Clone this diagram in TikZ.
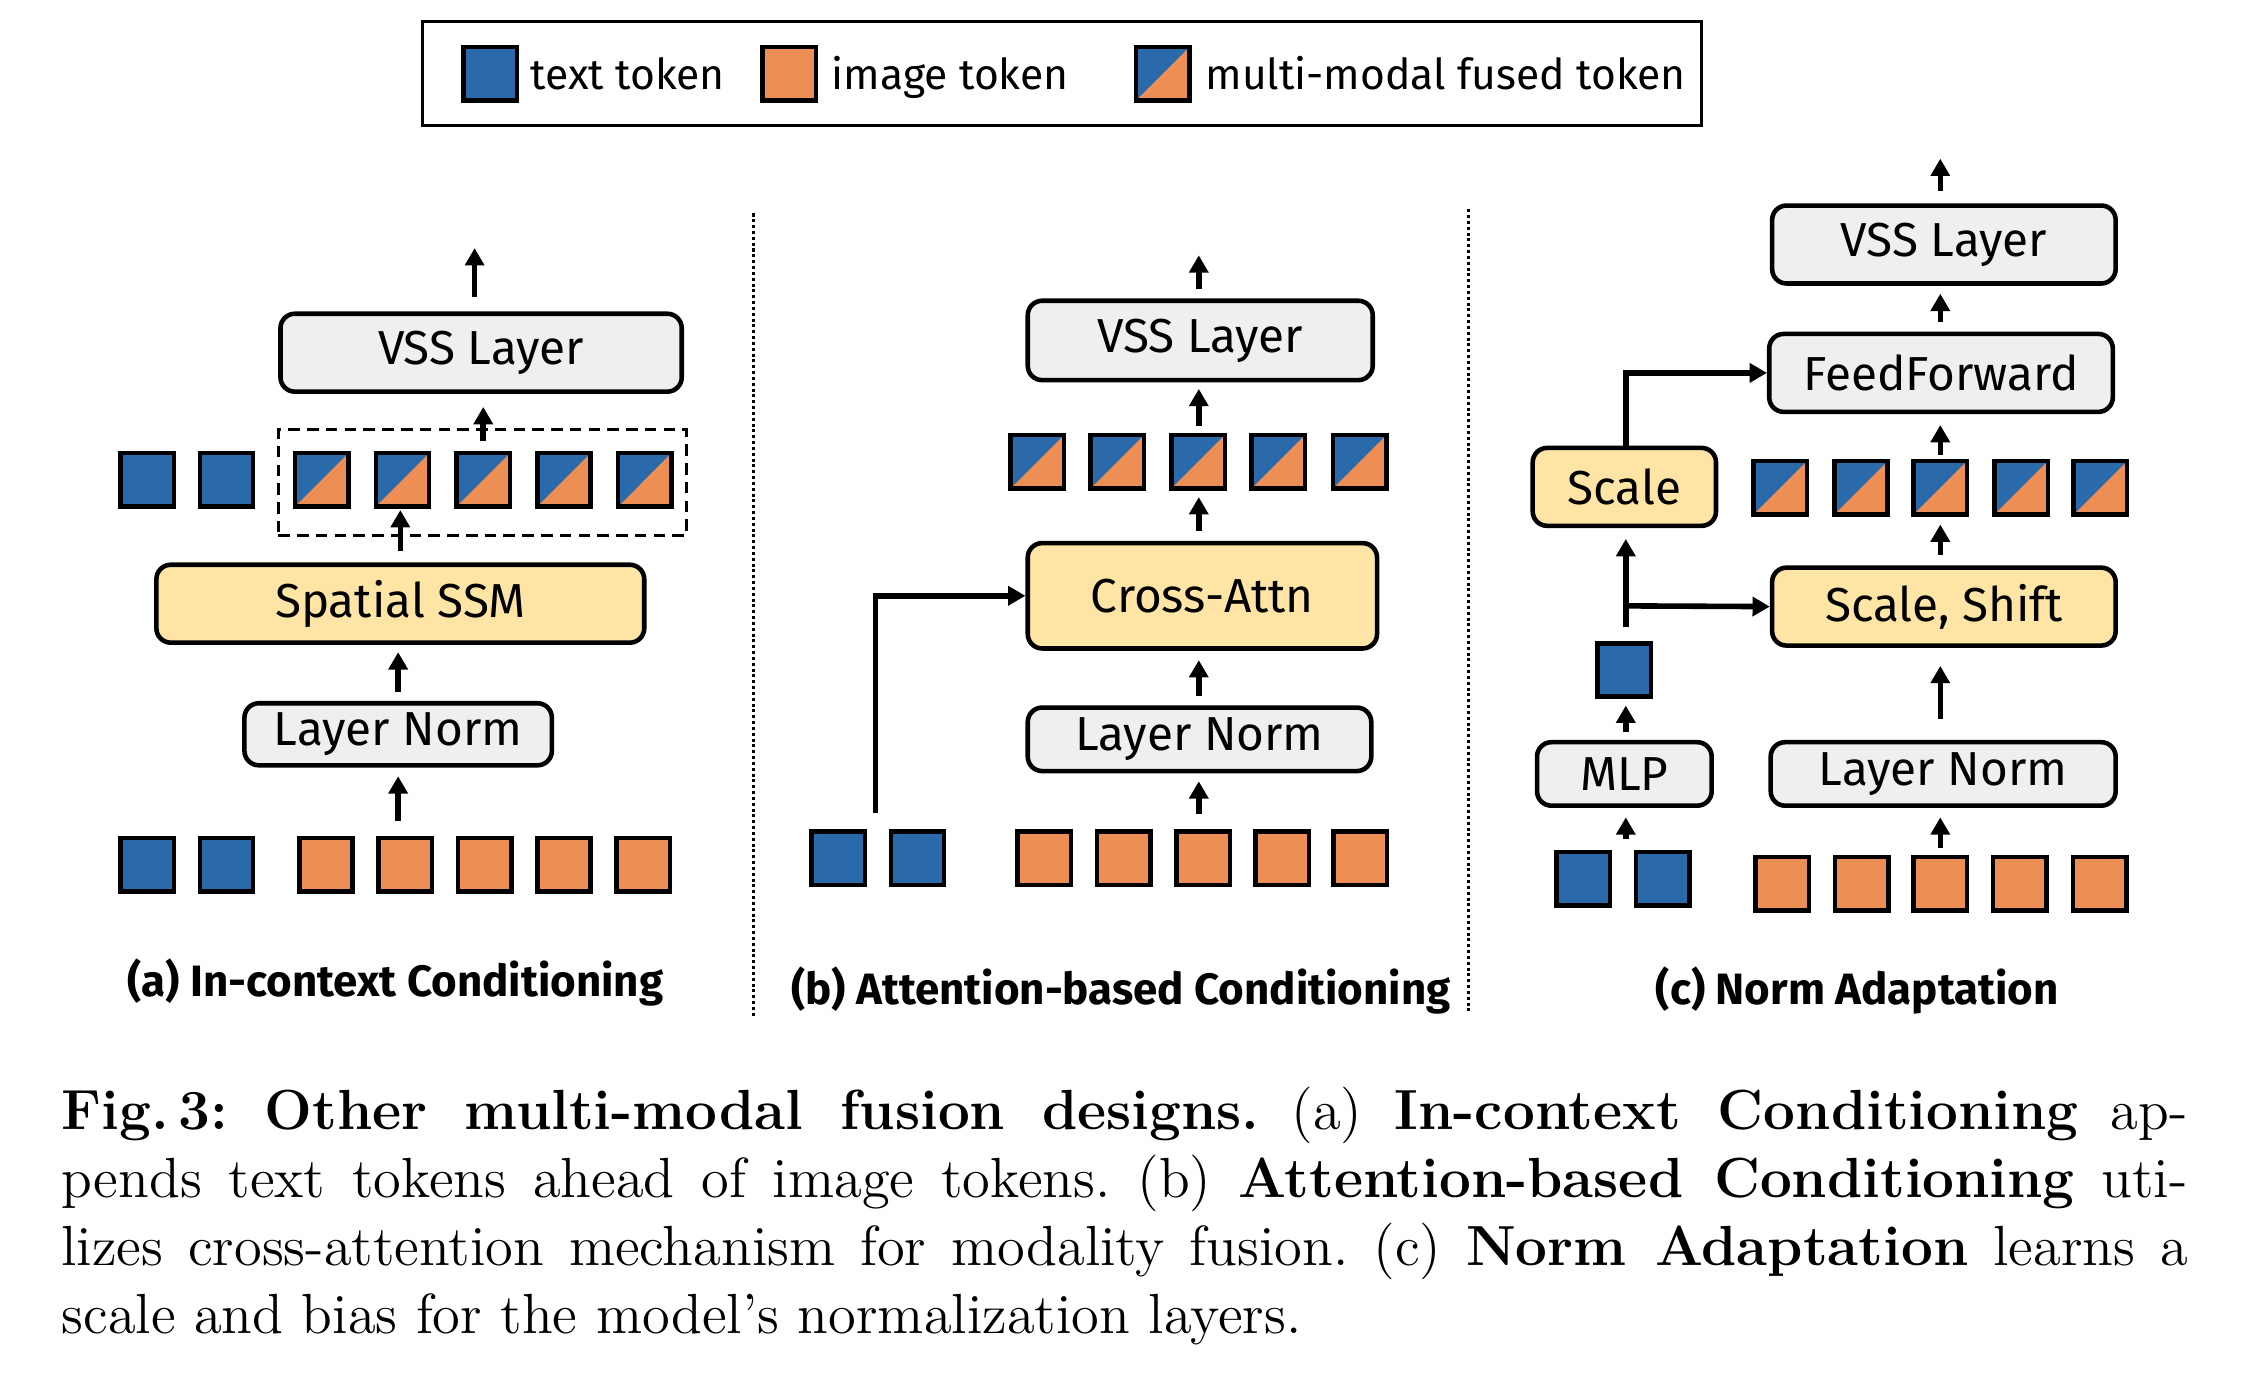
\documentclass[tikz,border=0pt]{standalone}
\usepackage{fontspec}
\setsansfont{Fira Sans}
\usetikzlibrary{arrows.meta}
\definecolor{tokblue}{RGB}{43,106,170}
\definecolor{tokorange}{RGB}{237,142,84}
\definecolor{boxyellow}{RGB}{255,229,165}
\definecolor{boxgray}{RGB}{239,239,239}
\begin{document}
\begin{tikzpicture}[x=0.01cm,y=-0.01cm,
  boxfont/.style={font=\sffamily\fontsize{9.4}{11}\selectfont},
  graybox/.style={draw, line width=0.9pt, rounded corners=0.1cm, fill=boxgray, inner sep=0pt, boxfont},
  yellowbox/.style={graybox, fill=boxyellow},
  tok/.style={draw, line width=0.9pt, minimum size=0.37cm, inner sep=0pt},
  ttok/.style={tok, fill=tokblue},
  itok/.style={tok, fill=tokorange},
  ftok/.style={tok, fill=tokorange, path picture={\fill[tokblue] (path picture bounding box.north west) -- (path picture bounding box.north east) -- (path picture bounding box.south west) -- cycle;}},
  arr/.style={-{Triangle[length=0.12cm,width=0.13cm]}, line width=1.1pt},
  dashbox/.style={draw, line width=0.6pt, dash pattern=on 0.08cm off 0.05cm, inner sep=0pt},
  sepline/.style={line width=0.6pt, dash pattern=on 0.6pt off 0.55pt},
  legtext/.style={anchor=base west, inner sep=0pt, font=\sffamily\fontsize{8.4}{10}\selectfont},
  sublabel/.style={anchor=base, inner sep=0pt, font=\sffamily\bfseries\fontsize{8.65}{10}\selectfont},
]
\useasboundingbox (0,0) rectangle (1568,952);

% ---------- legend ----------
\node[draw, line width=0.6pt, minimum width=8.86cm, minimum height=0.72cm, inner sep=0pt] (legend) at (736,51) {};
\node[ttok] (lt) at (340,51) {};
\node[legtext] (ltt) at (367,62) {text token};
\node[itok] (li) at (547,51) {};
\node[legtext] (lit) at (576,62) {image token};
\node[ftok] (lf) at (806,51) {};
\node[legtext] (lft) at (835,62) {multi-modal fused token};

% ---------- separators ----------
\draw[sepline] (522.5,148) -- (522.5,705);
\draw[sepline] (1018,145) -- (1018,703);

% ---------- panel (a) ----------
\node[graybox, minimum width=2.78cm, minimum height=0.54cm] (aVSS) at (333.5,244.5) {VSS Layer};
\node[dashbox, minimum width=2.83cm, minimum height=0.73cm] (adash) at (334.5,334.5) {};
\node[ttok] (at1) at (102,332.5) {};
\node[ttok] (at2) at (157,332.5) {};
\node[ftok] (af1) at (223,332.5) {};
\node[ftok] (af2) at (279,332.5) {};
\node[ftok] (af3) at (335,332.5) {};
\node[ftok] (af4) at (391,332.5) {};
\node[ftok] (af5) at (447,332.5) {};
\node[yellowbox, minimum width=3.38cm, minimum height=0.54cm] (aSSM) at (277.5,418.5) {Spatial SSM};
\node[graybox, minimum width=2.13cm, minimum height=0.43cm] (aLN) at (276,509) {Layer Norm};
\node[ttok] (ab1) at (102,599.5) {};
\node[ttok] (ab2) at (157,599.5) {};
\node[itok] (ai1) at (226,599.5) {};
\node[itok] (ai2) at (281,599.5) {};
\node[itok] (ai3) at (336,599.5) {};
\node[itok] (ai4) at (391,599.5) {};
\node[itok] (ai5) at (446,599.5) {};
\node[sublabel] (alab) at (274,691) {(a) In-context Conditioning};

\coordinate (aout) at (329,172);
\draw[arr, shorten <=0.1cm] (aVSS.north -| aout) -- (aout);
\draw[arr, shorten <=0.07cm, shorten >=0.09cm] (af3.north) -- (af3.north |- aVSS.south);
\draw[arr, shorten <=0.08cm, shorten >=0.01cm] (aSSM.north) -- (aSSM.north |- af2.south);
\draw[arr, shorten <=0.06cm, shorten >=0.05cm] (aLN.north) -- (aLN.north |- aSSM.south);
\draw[arr, shorten <=0.1cm, shorten >=0.06cm] (aLN.south |- ai2.north) -- (aLN.south);

% ---------- panel (b) ----------
\node[graybox, minimum width=2.39cm, minimum height=0.55cm] (bVSS) at (832,236) {VSS Layer};
\node[ftok] (bf1) at (719,320) {};
\node[ftok] (bf2) at (774.5,320) {};
\node[ftok] (bf3) at (830.5,320) {};
\node[ftok] (bf4) at (886,320) {};
\node[ftok] (bf5) at (942.5,320) {};
\node[yellowbox, minimum width=2.42cm, minimum height=0.73cm] (bCA) at (833.5,413) {Cross-Attn};
\node[graybox, minimum width=2.38cm, minimum height=0.44cm] (bLN) at (831.5,512.5) {Layer Norm};
\node[ttok] (bt1) at (581,595) {};
\node[ttok] (bt2) at (636,595) {};
\node[itok] (bi1) at (724,595) {};
\node[itok] (bi2) at (779,595) {};
\node[itok] (bi3) at (834,595) {};
\node[itok] (bi4) at (889,595) {};
\node[itok] (bi5) at (943,595) {};
\node[sublabel] (blab) at (777,696) {(b) Attention-based Conditioning};

\coordinate (bout) at (831,177);
\coordinate (bturn) at (607,413);
\draw[arr, shorten <=0.065cm] (bVSS.north -| bout) -- (bout);
\draw[arr, shorten <=0.045cm, shorten >=0.045cm] (bf3.north -| bout) -- (bVSS.south -| bout);
\draw[arr, shorten <=0.065cm, shorten >=0.045cm] (bCA.north -| bout) -- (bf3.south -| bout);
\draw[arr, shorten <=0.065cm, shorten >=0.065cm] (bLN.north -| bout) -- (bCA.south -| bout);
\draw[arr, shorten <=0.105cm, shorten >=0.055cm] (bi3.north -| bout) -- (bLN.south -| bout);
\draw[arr, shorten <=0.11cm] (bturn |- bt1.north) -- (bturn) -- (bCA.west);

% ---------- panel (c) ----------
\node[graybox, minimum width=2.38cm, minimum height=0.54cm] (cVSS) at (1347.5,169.5) {VSS Layer};
\node[graybox, minimum width=2.38cm, minimum height=0.54cm] (cFF) at (1345.5,258.5) {FeedForward};
\node[ftok] (cf1) at (1234,338) {};
\node[ftok] (cf2) at (1290,338) {};
\node[ftok] (cf3) at (1345,338) {};
\node[ftok] (cf4) at (1401,338) {};
\node[ftok] (cf5) at (1456,338) {};
\node[yellowbox, minimum width=2.38cm, minimum height=0.54cm] (cSS) at (1347.5,420.5) {Scale, Shift};
\node[graybox, minimum width=2.39cm, minimum height=0.44cm] (cLN) at (1347,536.5) {Layer Norm};
\node[itok] (ci1) at (1235.5,612.5) {};
\node[itok] (ci2) at (1290.5,612.5) {};
\node[itok] (ci3) at (1345,612.5) {};
\node[itok] (ci4) at (1400,612.5) {};
\node[itok] (ci5) at (1455.5,612.5) {};
\node[ttok] (ct1) at (1097.5,609) {};
\node[ttok] (ct2) at (1152.5,609) {};
\node[graybox, minimum width=1.21cm, minimum height=0.44cm] (cMLP) at (1126,536.5) {MLP};
\node[ttok] (ctok) at (1126,464.5) {};
\node[yellowbox, minimum width=1.27cm, minimum height=0.54cm] (cSc) at (1126,337.5) {Scale};
\node[sublabel] (clab) at (1287.5,696) {(c) Norm Adaptation};

\coordinate (cout) at (1345,110);
\coordinate (cbr) at (1127,420);
\draw[arr, shorten <=0.085cm] (cVSS.north -| cout) -- (cout);
\draw[arr, shorten <=0.065cm, shorten >=0.055cm] (cFF.north -| cout) -- (cVSS.south -| cout);
\draw[arr, shorten <=0.025cm, shorten >=0.075cm] (cf3.north -| cout) -- (cFF.south -| cout);
\draw[arr, shorten <=0.075cm, shorten >=0.055cm] (cSS.north -| cout) -- (cf3.south -| cout);
\draw[arr, shorten <=0.145cm, shorten >=0.125cm] (cLN.north -| cout) -- (cSS.south -| cout);
\draw[arr, shorten <=0.045cm, shorten >=0.065cm] (ci3.north -| cout) -- (cLN.south -| cout);
\draw[arr, shorten <=0.075cm, shorten >=0.065cm] (cbr |- ct1.north) -- (cbr |- cMLP.south);
\draw[arr, shorten <=0.055cm, shorten >=0.045cm] (cbr |- cMLP.north) -- (cbr |- ctok.south);
\draw[arr, shorten <=0.095cm, shorten >=0.075cm] (cbr |- ctok.north) -- (cbr |- cSc.south);
\draw[arr] (cbr) -- (cSS.west);
\draw[arr] (cbr |- cSc.north) -- (cbr |- cFF.west) -- (cFF.west);

% ---------- caption ----------
\node[anchor=north west, inner sep=0pt, text width=14.73cm, align=justify,
      font=\rmfamily\fontsize{11.15}{13.37}\selectfont\frenchspacing] (caption) at (42,753)
{\textbf{Fig.\,3: Other multi-modal fusion designs.} (a) \textbf{In-context Conditioning} ap-\linebreak pends text tokens ahead of image tokens. (b) \textbf{Attention-based Conditioning} uti-\linebreak lizes cross-attention mechanism for modality fusion. (c) \textbf{Norm Adaptation} learns a\linebreak scale and bias for the model's normalization layers.};
\end{tikzpicture}
\end{document}
